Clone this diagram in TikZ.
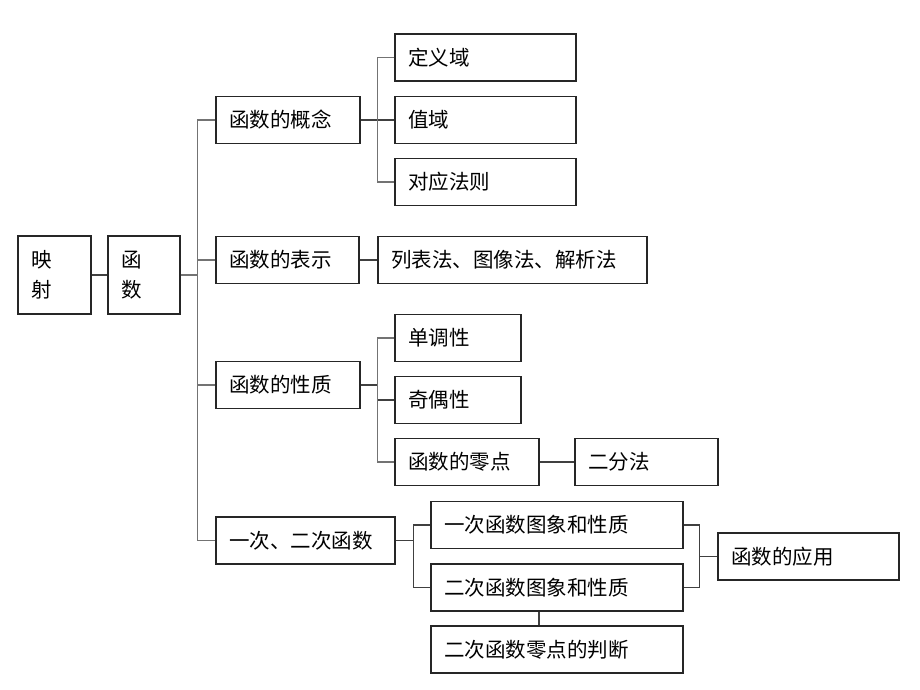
\documentclass[tikz,border=0pt]{standalone}
\usepackage{fontspec}
\setmainfont{Noto Sans CJK SC}

\begin{document}
\begin{tikzpicture}[
	x=1pt,
	y=-1pt,
	thick,
	box node/.style={draw=black!85,line width=1.2pt,align=left,inner xsep=13pt,inner ysep=0pt,minimum height=47pt,font=\fontsize{20.5}{30}\selectfont},
	wire/.style={draw=black!75,line width=1.2pt},
	bus/.style={draw=black!55,line width=1.6pt}
]
\useasboundingbox (0,0) rectangle (920,690);

\node[box node,text width=47pt,minimum height=78pt] (ys) at (54.5,275) {映\\射};
\node[box node,text width=46pt,minimum height=78pt] (hs) at (144,275) {函\\数};

\node[box node,text width=118pt] (gn) at (288,120) {函数的概念};
\node[box node,text width=117pt] (bs) at (287.5,260) {函数的表示};
\node[box node,text width=118pt] (xz) at (288,385) {函数的性质};
\node[box node,text width=153pt] (ec) at (305.5,540.5) {一次、二次函数};

\node[box node,text width=155pt] (dy) at (485.5,57.5) {定义域};
\node[box node,text width=155pt] (zy) at (485.5,120) {值域};
\node[box node,text width=155pt] (dyfz) at (485.5,182) {对应法则};

\node[box node,text width=243pt] (lb) at (512.5,260) {列表法、图像法、解析法};

\node[box node,text width=100pt] (dd) at (458,338) {单调性};
\node[box node,text width=100pt] (jo) at (458,400) {奇偶性};
\node[box node,text width=118pt] (ld) at (467,462) {函数的零点};
\node[box node,text width=117pt] (ef) at (646.5,462) {二分法};

\node[box node,text width=226pt] (yc) at (557,525) {一次函数图象和性质};
\node[box node,text width=226pt] (ec2) at (557,587.5) {二次函数图象和性质};
\node[box node,text width=226pt] (pd) at (557,649.5) {二次函数零点的判断};
\node[box node,text width=155pt] (yy) at (808.5,556.5) {函数的应用};

% main bus
\draw[wire] (ys.east) -- (hs.west);
\draw[bus] (hs.east) -- ++(17,0) coordinate (b0);
\draw[bus] (gn.west) -| (b0) |- (ec.west);
\draw[bus] (bs.west) -- (bs.west -| b0);
\draw[bus] (xz.west) -- (xz.west -| b0);

% concept
\draw[wire] (gn.east) -- ++(17,0) coordinate (b1);
\draw[bus] (dy.west) -| (b1) |- (dyfz.west);
\draw[wire] (zy.west) -- (b1);

% representation
\draw[wire] (bs.east) -- (lb.west);

% properties
\draw[wire] (xz.east) -- ++(17,0) coordinate (b2);
\draw[bus] (dd.west) -| (b2) |- (ld.west);
\draw[wire] (jo.west) -- (jo.west -| b2);
\draw[wire] (ld.east) -- (ef.west);

% linear, quadratic
\draw[wire] (ec.east) -- ++(18,0) coordinate (b3);
\draw[wire] (yc.west) -| (b3) |- (ec2.west);
\draw[wire] (yy.west) -- ++(-18,0) coordinate (b4);
\draw[wire] (yc.east) -| (b4) |- (ec2.east);
\draw[wire] ([xshift=-18pt]ec2.south) -- ([xshift=-18pt]pd.north);
\end{tikzpicture}
\end{document}
